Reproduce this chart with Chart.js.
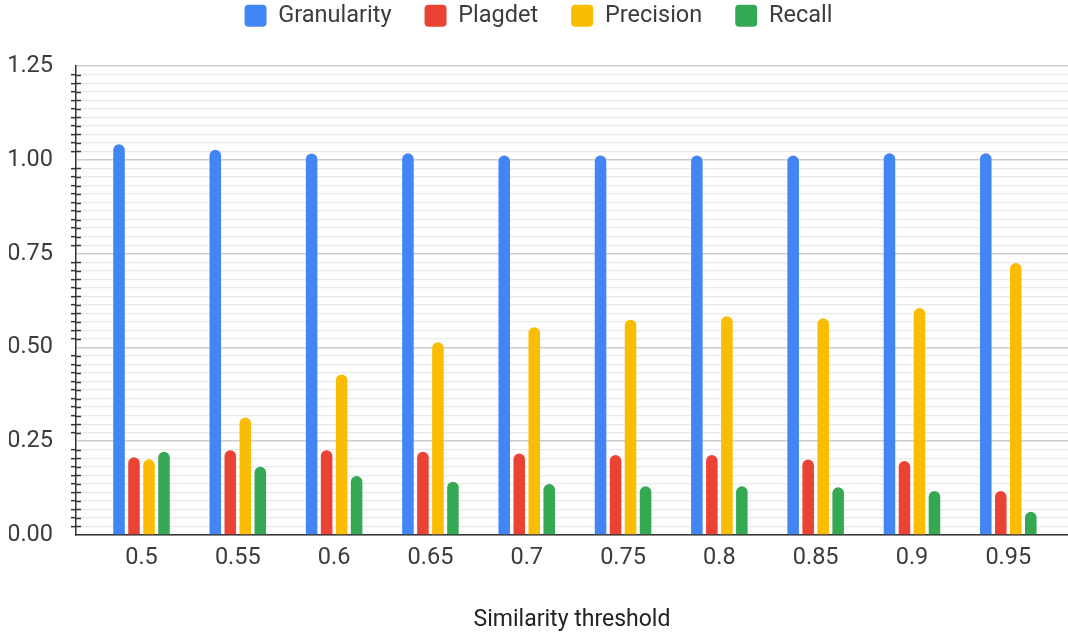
<!DOCTYPE html>
<html>
<head>
<meta charset="utf-8">
<script src="https://cdn.jsdelivr.net/npm/chart.js@4.4.1/dist/chart.umd.min.js"></script>
<style>
  html, body { margin: 0; padding: 0; background: #fff; }
  canvas { display: block; }
</style>
</head>
<body>
<canvas id="chart" width="1068" height="634"></canvas>
<script>
// Similarity thresholds on the x axis
const thresholds = ['0.5', '0.55', '0.6', '0.65', '0.7', '0.75', '0.8', '0.85', '0.9', '0.95'];

// Metric values per threshold
const granularity = [1.042, 1.027, 1.017, 1.018, 1.012, 1.012, 1.012, 1.012, 1.018, 1.018];
const plagdet     = [0.207, 0.226, 0.226, 0.222, 0.217, 0.213, 0.213, 0.201, 0.197, 0.117];
const precision   = [0.202, 0.313, 0.428, 0.514, 0.554, 0.574, 0.583, 0.578, 0.605, 0.725];
const recall      = [0.222, 0.182, 0.157, 0.142, 0.136, 0.130, 0.130, 0.127, 0.117, 0.062];

// Labelled y ticks; each major step is split into minor gridlines
const yTickLabels = ['0.00', '0.25', '0.50', '0.75', '1.00', '1.25'];
const yMax = 1.25;
const minorPerMajor = 11;

const FONT = 'Roboto, Arial, sans-serif';
const TEXT = '#3c3c3c';
const FS = 23.5;
Chart.defaults.font.family = FONT;
Chart.defaults.color = TEXT;

const toPoints = arr => arr.map((y, i) => ({ x: i, y }));

const series = [
  { label: 'Granularity', data: granularity, color: '#4285F4' },
  { label: 'Plagdet',     data: plagdet,     color: '#EA4335' },
  { label: 'Precision',   data: precision,   color: '#FBBC04' },
  { label: 'Recall',      data: recall,      color: '#34A853' }
];

const totalTicks = (yTickLabels.length - 1) * minorPerMajor;

// Minor tick marks also cross the y axis line into the plot area
const crossTicks = {
  id: 'crossTicks',
  afterDraw(chart) {
    const y = chart.scales.y;
    const ctx = chart.ctx;
    ctx.save();
    ctx.strokeStyle = '#333';
    ctx.lineWidth = 1.5;
    y.ticks.forEach((t, i) => {
      if (i % minorPerMajor === 0) return;
      const py = Math.round(y.getPixelForValue(t.value)) + 0.5;
      ctx.beginPath();
      ctx.moveTo(y.right, py);
      ctx.lineTo(y.right + 5, py);
      ctx.stroke();
    });
    ctx.restore();
  }
};

new Chart(document.getElementById('chart'), {
  type: 'bar',
  data: {
    datasets: series.map(s => ({
      label: s.label,
      data: toPoints(s.data),
      backgroundColor: s.color,
      borderColor: s.color,
      borderWidth: 0,
      borderRadius: 6,
      borderSkipped: 'start',
      categoryPercentage: 0.623,
      barPercentage: 0.77
    }))
  },
  options: {
    responsive: false,
    animation: false,
    layout: { padding: { left: 9, right: 0, top: -29, bottom: 0 } },
    plugins: {
      tooltip: { enabled: false },
      legend: {
        position: 'top',
        labels: {
          boxWidth: 22,
          boxHeight: 22,
          useBorderRadius: true,
          borderRadius: 4,
          padding: 33,
          color: TEXT,
          font: { size: FS, family: FONT }
        }
      },
      // empty spacer between the legend and the plot
      subtitle: {
        display: true,
        text: '',
        weight: 500,
        font: { size: 1 },
        padding: { top: 0, bottom: 27.5 }
      }
    },
    scales: {
      x: {
        type: 'linear',
        offset: false,
        min: -0.68,
        max: 9.62,
        afterBuildTicks: scale => {
          scale.ticks = thresholds.map((_, i) => ({ value: i }));
        },
        afterFit: scale => { scale.height = 99; },
        ticks: {
          autoSkip: false,
          maxRotation: 0,
          padding: 9,
          color: TEXT,
          font: { size: FS },
          callback: v => thresholds[v]
        },
        grid: { display: false, drawTicks: false },
        border: { display: true, color: '#333', width: 1.5 },
        title: {
          display: true,
          text: 'Similarity threshold',
          color: '#222',
          font: { size: 23 },
          padding: { top: 30, bottom: 0 }
        }
      },
      y: {
        min: 0,
        max: yMax,
        afterBuildTicks: scale => {
          const ticks = [];
          for (let i = 0; i <= totalTicks; i++) {
            ticks.push({ value: i === totalTicks ? yMax : (i / totalTicks) * yMax });
          }
          scale.ticks = ticks;
        },
        afterFit: scale => { scale.width = 67; },
        ticks: {
          autoSkip: false,
          padding: 18,
          color: TEXT,
          font: { size: FS },
          callback: (v, i) => (i % minorPerMajor === 0 ? yTickLabels[i / minorPerMajor] : '')
        },
        grid: {
          color: ctx => (ctx.index % minorPerMajor === 0 ? '#cccccc' : '#e9e9e9'),
          lineWidth: ctx => (ctx.index % minorPerMajor === 0 ? 1.5 : 1.3),
          tickColor: ctx => (ctx.index % minorPerMajor === 0 ? 'rgba(0,0,0,0)' : '#333'),
          tickLength: 5,
          tickWidth: 1.5
        },
        border: { display: true, color: '#333', width: 1.5 }
      }
    }
  },
  plugins: [crossTicks]
});
</script>
</body>
</html>
